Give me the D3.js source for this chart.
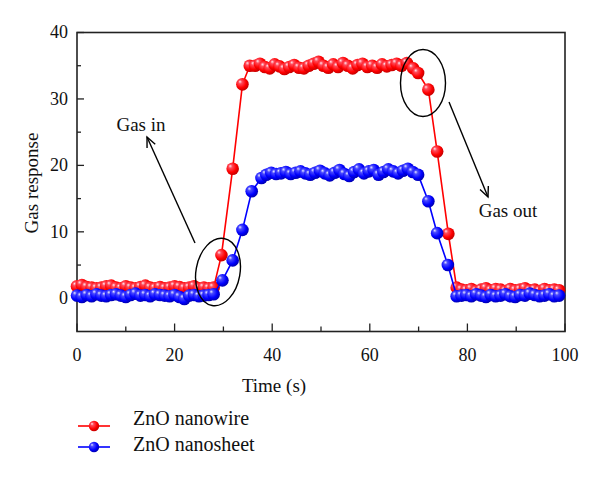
<!DOCTYPE html>
<html><head><meta charset="utf-8">
<script src="https://cdn.jsdelivr.net/npm/d3@7"></script>
<style>body{margin:0;background:#fff}svg{display:block}text{font-family:"Liberation Serif","Times New Roman",serif;fill:#111}</style>
</head><body><svg id="c" width="600" height="478"></svg>
<script>
// ---- data ----
const redTime = [0,1,2,3,4,5,6,7,8,9,10,11,12,13,14,15,16,17,18,19,20,21,22,23,24,25,26,27,28,
  29.6,31.9,33.9,35.4,
  36.5,37.5,38.5,39.5,40.5,41.5,42.5,43.5,44.5,45.5,46.5,47.5,48.5,49.5,50.5,51.5,52.5,53.5,54.5,55.5,56.5,57.5,58.5,59.5,60.5,61.5,62.5,63.5,64.5,65.5,66.5,
  67.6,68.9,69.9,72.0,73.8,76.1,77.8,
  78.8,79.8,80.8,81.8,82.8,83.8,84.8,85.8,86.8,87.8,88.8,89.8,90.8,91.8,92.8,93.8,94.8,95.8,96.8,97.8,98.8];
const redValues = [1.8,2.0,1.7,1.6,1.5,1.6,1.8,1.9,1.6,1.5,1.8,1.6,1.5,1.7,1.9,1.6,1.5,1.7,1.5,1.6,1.8,1.7,1.5,1.6,1.8,1.5,1.6,1.5,1.6,
  6.5,19.5,32.2,35.0,
  35.0,35.3,34.8,34.6,35.2,34.9,34.5,34.8,35.1,34.7,34.6,35.0,35.3,35.6,35.0,34.7,35.2,34.8,35.4,35.0,34.6,35.1,35.3,34.8,35.0,34.7,35.2,34.9,35.1,35.3,35.0,
  35.4,34.6,33.9,31.4,22.1,9.7,1.6,
  1.3,1.2,1.4,1.1,1.3,1.5,1.2,1.4,1.3,1.1,1.4,1.2,1.3,1.5,1.2,1.3,1.1,1.4,1.2,1.3,1.2];
const blueTime = [0,1,2,3,4,5,6,7,8,9,10,11,12,13,14,15,16,17,18,19,20,21,22,23,24,25,26,27,28,
  29.8,31.9,33.9,35.8,37.8,
  38.8,39.8,40.8,41.8,42.8,43.8,44.8,45.8,46.8,47.8,48.8,49.8,50.8,51.8,52.8,53.8,54.8,55.8,56.8,57.8,58.8,59.8,60.8,61.8,62.8,63.8,64.8,65.8,66.8,67.8,68.8,
  69.9,72.0,73.8,76.0,77.8,
  78.8,79.8,80.8,81.8,82.8,83.8,84.8,85.8,86.8,87.8,88.8,89.8,90.8,91.8,92.8,93.8,94.8,95.8,96.8,97.8,98.8];
const blueValues = [0.4,0.2,0.5,0.3,0.6,0.4,0.3,0.5,0.6,0.4,0.2,0.5,0.7,0.4,0.5,0.3,0.6,0.5,0.4,0.3,0.5,0.2,-0.1,0.4,0.5,0.3,0.4,0.5,0.6,
  2.7,5.7,10.3,16.1,18.1,
  18.6,18.9,18.7,18.8,19.0,18.7,18.9,19.1,18.8,18.6,18.9,19.2,18.8,18.5,18.9,19.3,18.7,18.4,19.0,19.4,18.8,19.1,19.3,18.6,19.0,19.4,19.1,18.8,19.2,19.5,19.0,
  18.6,14.6,9.8,5.0,0.3,
  0.4,0.5,0.3,0.6,0.4,0.2,0.5,0.3,0.4,0.6,0.3,0.2,0.5,0.4,0.7,0.5,0.3,0.4,0.6,0.3,0.4];
const seriesNames = ["ZnO nanowire","ZnO nanosheet"];
const xTicksMajor = [0,20,40,60,80,100];
const yTicksMajor = [0,10,20,30,40];

// ---- drawing ----
const svg = d3.select("#c");
const L=77, R=565, T=32.5, B=331.5;
const x = d3.scaleLinear().domain([0,100]).range([L,R]);
const y = d3.scaleLinear().domain([-5,40]).range([B,T]);

const defs = svg.append("defs");
function grad(id, c0, c1, c2, c3){
  const g = defs.append("radialGradient").attr("id",id)
    .attr("cx","0.4").attr("cy","0.4").attr("r","0.6").attr("fx","0.3").attr("fy","0.28");
  g.append("stop").attr("offset","0").attr("stop-color",c0);
  g.append("stop").attr("offset","0.25").attr("stop-color",c1);
  g.append("stop").attr("offset","0.7").attr("stop-color",c2);
  g.append("stop").attr("offset","1").attr("stop-color",c3);
}
grad("gR","#ffe6ee","#ff4a5a","#ff0000","#c80000");
grad("gB","#e6e6ff","#4a4aff","#0000ff","#0000b4");

// axes (ticks inward)
const ax = svg.append("g").attr("stroke","#222").attr("stroke-width",1.5);
const xb = d3.axisBottom(x).tickValues(d3.range(0,101,10)).tickSize(0).tickFormat("");
const gx = svg.append("g").attr("transform",`translate(0,${B})`).call(xb);
gx.select(".domain").remove();
const xMinor = d3.range(10,100,20);
svg.append("g").selectAll("line").data(xTicksMajor.concat(xMinor)).join("line")
  .attr("x1",d=>x(d)).attr("x2",d=>x(d)).attr("y1",B).attr("y2",d=>B-(d%20===0?8:5))
  .attr("stroke","#222").attr("stroke-width",1.3);
const yMinor = [-5,5,15,25,35].filter(v=>v>-5);
svg.append("g").selectAll("line").data(yTicksMajor.concat(yMinor)).join("line")
  .attr("y1",d=>y(d)).attr("y2",d=>y(d)).attr("x1",L).attr("x2",d=>L+(d%10===0?7:4))
  .attr("stroke","#222").attr("stroke-width",1.3);
svg.append("rect").attr("x",L).attr("y",T).attr("width",R-L).attr("height",B-T)
  .attr("fill","none").attr("stroke","#222").attr("stroke-width",1.6);

svg.append("g").selectAll("text").data(xTicksMajor).join("text")
  .attr("x",d=>x(d)).attr("y",361).attr("text-anchor","middle").attr("font-size",18).text(d=>d);
svg.append("g").selectAll("text").data(yTicksMajor).join("text")
  .attr("x",68).attr("y",d=>y(d)).attr("dy","0.33em").attr("text-anchor","end").attr("font-size",18).text(d=>d);

svg.append("text").attr("x",274).attr("y",392).attr("text-anchor","middle").attr("font-size",19).text("Time (s)");
svg.append("text").attr("transform","translate(38,183) rotate(-90)").attr("text-anchor","middle").attr("font-size",19).text("Gas response");

// series
const line = d3.line().x(d=>x(d[0])).y(d=>y(d[1]));
const red = redTime.map((t,i)=>[t,redValues[i]]);
const blue = blueTime.map((t,i)=>[t,blueValues[i]]);
function drawSeries(data, col, gid){
  svg.append("path").datum(data).attr("d",line).attr("fill","none").attr("stroke",col).attr("stroke-width",1.6);
  svg.append("g").selectAll("circle").data(data).join("circle")
    .attr("cx",d=>x(d[0])).attr("cy",d=>y(d[1])).attr("r",6.3).attr("fill",`url(#${gid})`);
}
drawSeries(red,"#ff0000","gR");
drawSeries(blue,"#0000ff","gB");

// annotations
const an = svg.append("g").attr("fill","none").attr("stroke","#000").attr("stroke-width",1.4);
an.append("ellipse").attr("cx",218).attr("cy",272).attr("rx",22).attr("ry",34).attr("transform","rotate(10,218,272)");
an.append("ellipse").attr("cx",423).attr("cy",83).attr("rx",22.5).attr("ry",33.5);
function arrow(x1,y1,x2,y2){
  an.append("line").attr("x1",x1).attr("y1",y1).attr("x2",x2).attr("y2",y2);
  const a=Math.atan2(y1-y2,x1-x2), h=11, s=0.42;
  an.append("path").attr("d",`M${x2+h*Math.cos(a+s)},${y2+h*Math.sin(a+s)}L${x2},${y2}L${x2+h*Math.cos(a-s)},${y2+h*Math.sin(a-s)}`);
}
arrow(195,243,147,137);
arrow(449,102,488,197);
svg.append("text").attr("x",141).attr("y",131).attr("text-anchor","middle").attr("font-size",19).text("Gas in");
svg.append("text").attr("x",508).attr("y",217).attr("text-anchor","middle").attr("font-size",19).text("Gas out");

// legend
const leg = [{n:seriesNames[0],c:"#ff0000",g:"gR",ly:426,ty:425},{n:seriesNames[1],c:"#0000ff",g:"gB",ly:447,ty:451}];
leg.forEach(d=>{
  svg.append("line").attr("x1",78).attr("x2",110).attr("y1",d.ly).attr("y2",d.ly).attr("stroke",d.c).attr("stroke-width",1.6);
  svg.append("circle").attr("cx",94).attr("cy",d.ly).attr("r",5.2).attr("fill",`url(#${d.g})`);
  svg.append("text").attr("x",133).attr("y",d.ty).attr("font-size",20).text(d.n);
});
</script></body></html>
